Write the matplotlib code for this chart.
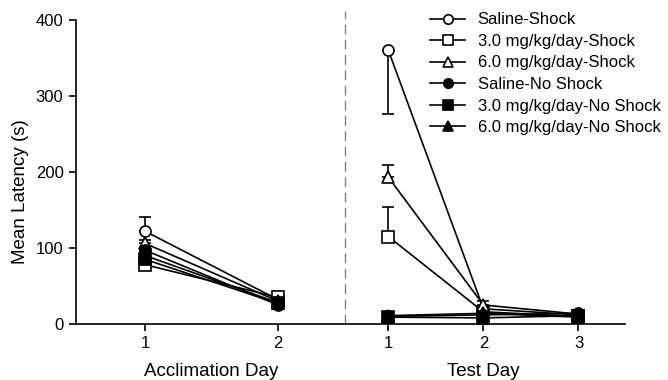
import matplotlib
matplotlib.use("Agg")
import matplotlib.pyplot as plt
from matplotlib.transforms import blended_transform_factory

plt.rcParams['font.family'] = ['Liberation Sans', 'DejaVu Sans']

acc_days = ['1', '2']
test_days = ['1', '2', '3']

series_names = ['Saline-Shock', '3.0 mg/kg/day-Shock', '6.0 mg/kg/day-Shock',
                'Saline-No Shock', '3.0 mg/kg/day-No Shock', '6.0 mg/kg/day-No Shock']

acc_vals = [
    [122, 32],
    [78, 35],
    [106, 30],
    [97, 25],
    [85, 27],
    [90, 28],
]
test_vals = [
    [360, 20, 12],
    [115, 16, 10],
    [193, 25, 13],
    [10, 12, 14],
    [9, 8, 11],
    [11, 14, 9],
]
# signed SEM: positive drawn upward, negative drawn downward
acc_err = [
    [19, 3],
    [3, 4],
    [5, 3],
    [4, 2],
    [3, 2],
    [4, 2],
]
test_err = [
    [-84, 3, 3],
    [39, 3, 2],
    [16, 5, 3],
    [2, 2, 2],
    [2, 2, 2],
    [2, 2, 2],
]

markers = ['o', 's', '^', 'o', 's', '^']
fills = ['white', 'white', 'white', 'black', 'black', 'black']

# layout positions
acc_x = [1.0, 2.0]
test_x = [2.83, 3.545, 4.26]
divider_x = 2.5

fig = plt.figure(figsize=(6.68, 3.80), dpi=100)
ax = fig.add_axes([0.1138, 0.1474, 0.8218, 0.8])

def draw(xs, ys, errs, m, fc, label=None):
    lo = [(-e if e < 0 else 0) for e in errs]
    hi = [(e if e > 0 else 0) for e in errs]
    ax.errorbar(xs, ys, yerr=[lo, hi], fmt='none', ecolor='black',
                elinewidth=1.2, capsize=4, capthick=1.2, zorder=2)
    ax.plot(xs, ys, color='black', lw=1.2, marker=m, markersize=8,
            markerfacecolor=fc, markeredgecolor='black', markeredgewidth=1.2,
            label=label, zorder=3, clip_on=False)

for i in range(len(series_names)):
    draw(acc_x, acc_vals[i], acc_err[i], markers[i], fills[i], series_names[i])
    draw(test_x, test_vals[i], test_err[i], markers[i], fills[i])

ax.plot([divider_x, divider_x], [0, 412], color='#808080', lw=1.0,
        dashes=(7, 4), clip_on=False, zorder=1)

ax.set_xlim(0.48, 4.61)
ax.set_ylim(0, 400)
ax.set_yticks([0, 100, 200, 300, 400])
ax.set_xticks(acc_x + test_x)
ax.set_xticklabels(acc_days + test_days)
for s in ['top', 'right']:
    ax.spines[s].set_visible(False)
for s in ['left', 'bottom']:
    ax.spines[s].set_linewidth(1.2)
ax.tick_params(axis='both', direction='out', length=5, width=1.2, labelsize=12, pad=4)
ax.set_ylabel('Mean Latency (s)', fontsize=13.5)
ax.yaxis.set_label_coords(-0.085, 0.435)

tr = blended_transform_factory(ax.transData, ax.transAxes)
ax.text(sum(acc_x) / 2, -0.155, 'Acclimation Day', transform=tr, ha='center',
        va='center', fontsize=13.5)
ax.text(test_x[1], -0.155, 'Test Day', transform=tr, ha='center',
        va='center', fontsize=13.5)

leg = ax.legend(loc='upper left', bbox_to_anchor=(430 / 668, 1 - 12.5 / 380),
                bbox_transform=fig.transFigure, frameon=False,
                fontsize=12, handlelength=2.1, handletextpad=0.75,
                labelspacing=0.39, borderaxespad=0, borderpad=0, markerscale=0.85)

fig.savefig('out.png', dpi=100)
